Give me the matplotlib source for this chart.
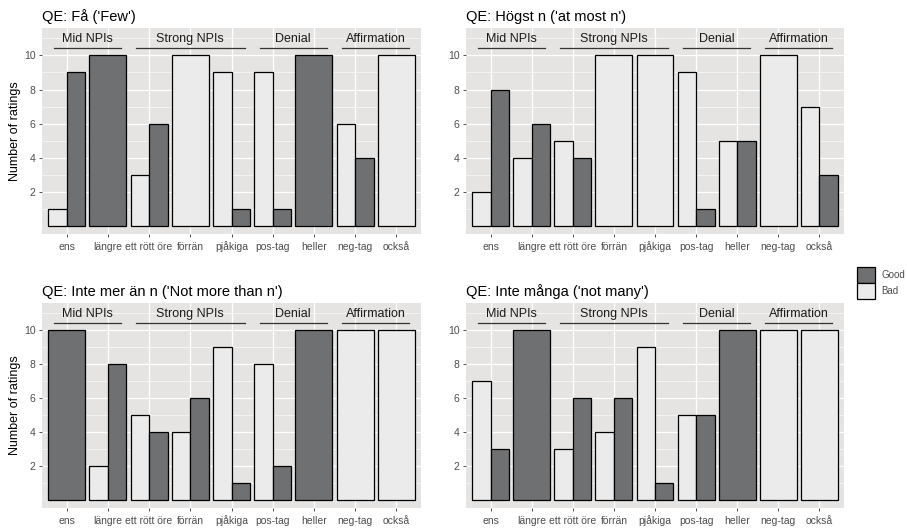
import matplotlib.pyplot as plt
from matplotlib.patches import Patch

plt.rcParams['font.family'] = ['Liberation Sans', 'DejaVu Sans']

words = ['ens', 'längre', 'ett rött öre', 'förrän', 'pjåkiga', 'pos-tag', 'heller', 'neg-tag', 'också']
groups = [('Mid NPIs', 0, 1), ('Strong NPIs', 2, 4), ('Denial', 5, 6), ('Affirmation', 7, 8)]

titles = ["QE: Få ('Few')", "QE: Högst n ('at most n')",
          "QE: Inte mer än n ('Not more than n')", "QE: Inte många ('not many')"]

fa_bad = [1, 0, 3, 10, 9, 9, 0, 6, 10]
fa_good = [9, 10, 6, 0, 1, 1, 10, 4, 0]
hogst_bad = [2, 4, 5, 10, 10, 9, 5, 10, 7]
hogst_good = [8, 6, 4, 0, 0, 1, 5, 0, 3]
intemer_bad = [0, 2, 5, 4, 9, 8, 0, 10, 10]
intemer_good = [10, 8, 4, 6, 1, 2, 10, 0, 0]
intemanga_bad = [7, 0, 3, 4, 9, 5, 0, 10, 10]
intemanga_good = [3, 10, 6, 6, 1, 5, 10, 0, 0]

bad_all = [fa_bad, hogst_bad, intemer_bad, intemanga_bad]
good_all = [fa_good, hogst_good, intemer_good, intemanga_good]

BG = '#e6e4e2'
LIGHT = '#ebebeb'
DARK = '#6e7072'
GREY = '#4d4d4d'

W, H = 907, 529
fig = plt.figure(figsize=(W / 100, H / 100), dpi=100)

# panel boxes in pixels: left, right, top, bottom
boxes = [(42, 421, 28, 234), (466, 844, 28, 234),
         (42, 421, 303, 508), (466, 844, 303, 508)]

for k, (l, r, t, b) in enumerate(boxes):
    ax = fig.add_axes([l / W, 1 - b / H, (r - l) / W, (b - t) / H])
    ax.set_facecolor(BG)
    for s in ax.spines.values():
        s.set_visible(False)
    ax.set_xlim(-0.6, 8.6)
    ax.set_ylim(-0.45, 11.6)

    # grid
    for y in [1, 3, 5, 7, 9, 11]:
        ax.axhline(y, color='white', lw=0.4, zorder=0)
    for y in [2, 4, 6, 8, 10]:
        ax.axhline(y, color='white', lw=0.9, zorder=0)
    for x in range(len(words)):
        ax.axvline(x, color='white', lw=0.9, zorder=0)

    bad = bad_all[k]
    good = good_all[k]
    for i in range(len(words)):
        if bad[i] > 0 and good[i] > 0:
            ax.bar(i - 0.225, bad[i], width=0.45, color=LIGHT, edgecolor='black', lw=0.9, zorder=2)
            ax.bar(i + 0.225, good[i], width=0.45, color=DARK, edgecolor='black', lw=0.9, zorder=2)
        elif bad[i] > 0:
            ax.bar(i, bad[i], width=0.9, color=LIGHT, edgecolor='black', lw=0.9, zorder=2)
        elif good[i] > 0:
            ax.bar(i, good[i], width=0.9, color=DARK, edgecolor='black', lw=0.9, zorder=2)

    for name, a, z in groups:
        ax.plot([a - 0.32, z + 0.32], [10.43, 10.43], color='#333333', lw=0.9, zorder=3)
        ax.text((a + z) / 2, 10.6, name, ha='center', va='bottom', fontsize=9, color='#1a1a1a')

    ax.set_xticks(range(len(words)))
    ax.set_xticklabels(words)
    ax.set_yticks([2, 4, 6, 8, 10])
    ax.tick_params(axis='both', colors='#333333', labelcolor=GREY, labelsize=7.5,
                   length=2.5, width=0.6, pad=2)
    ax.tick_params(axis='x', pad=9)
    for lab in ax.get_xticklabels():
        lab.set_va('baseline')
    if k in (0, 2):
        ax.set_ylabel('Number of ratings', fontsize=9, color='black', labelpad=2)
    ax.set_title(titles[k], loc='left', fontsize=10.5, pad=5, color='black')

handles = [Patch(facecolor=DARK, edgecolor='black', lw=0.9, label='Good'),
           Patch(facecolor=LIGHT, edgecolor='black', lw=0.9, label='Bad')]
fig.legend(handles=handles, loc='upper left', bbox_to_anchor=(849 / W, 1 - 259 / H),
           frameon=False, fontsize=7, handlelength=1.9, handleheight=2.2,
           labelspacing=0.0, handletextpad=0.6, borderpad=0.3, labelcolor=GREY)

fig.savefig('out.png', dpi=100)
